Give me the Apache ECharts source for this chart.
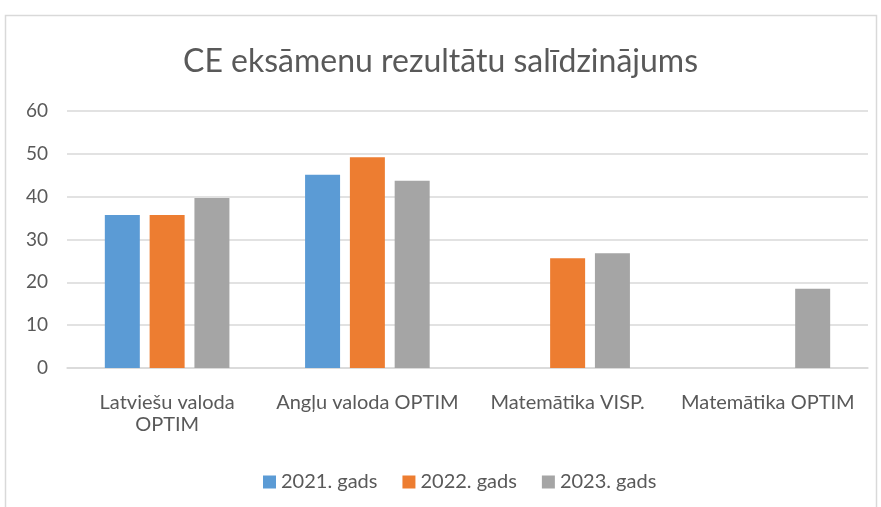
<!DOCTYPE html>
<html>
<head>
<meta charset="utf-8">
<script src="https://cdn.jsdelivr.net/npm/echarts@6/dist/echarts.min.js"></script>
<style>
  html, body { margin: 0; padding: 0; background: #fff; }
  #chart { width: 881px; height: 507px; }
</style>
</head>
<body>
<div id="chart"></div>
<script>
  // chart data
  const categories = ['Latviešu valoda\nOPTIM', 'Angļu valoda OPTIM', 'Matemātika VISP.', 'Matemātika OPTIM']
  const seriesNames = ['2021. gads', '2022. gads', '2023. gads']
  const values2021 = [35.7, 45.1, null, null]
  const values2022 = [35.7, 49.2, 25.6, null]
  const values2023 = [39.7, 43.7, 26.8, 18.5]
  const yTicks = [0, 10, 20, 30, 40, 50, 60]

  const colors = ['#5b9bd5', '#ed7d31', '#a5a5a5']
  const font = 'Lato, sans-serif'
  const textColor = '#595959'

  const chart = echarts.init(document.getElementById('chart'))
  const allValues = [values2021, values2022, values2023]

  chart.setOption({
    animation: false,
    color: colors,
    title: {
      text: 'CE eksāmenu rezultātu salīdzinājums',
      left: 'center',
      top: 41,
      textStyle: { fontFamily: font, fontSize: 32, fontWeight: 'normal', color: textColor }
    },
    graphic: [{
      type: 'rect',
      shape: { x: 5.5, y: 15.5, width: 871, height: 520 },
      style: { fill: 'none', stroke: '#d9d9d9', lineWidth: 1.5 },
      silent: true
    }],
    legend: {
      data: seriesNames,
      top: 467,
      left: 258,
      icon: 'rect',
      itemWidth: 13,
      itemHeight: 13,
      itemGap: 25,
      textStyle: { fontFamily: font, fontSize: 20, color: textColor }
    },
    grid: { left: 67, right: 13, top: 111, bottom: 139 },
    xAxis: {
      type: 'category',
      data: categories,
      axisLine: { lineStyle: { color: '#d9d9d9', width: 1.5 } },
      axisTick: { show: false },
      axisLabel: { fontFamily: font, fontSize: 20, color: textColor, margin: 24, lineHeight: 22, interval: 0 }
    },
    yAxis: {
      type: 'value',
      min: yTicks[0],
      max: yTicks[yTicks.length - 1],
      interval: 10,
      axisLine: { show: false },
      axisTick: { show: false },
      splitLine: { lineStyle: { color: '#d9d9d9', width: 1.5 } },
      axisLabel: { fontFamily: font, fontSize: 19, color: textColor, margin: 19 }
    },
    series: seriesNames.map((name, i) => ({
      name: name,
      type: 'bar',
      data: allValues[i],
      barWidth: 35,
      barGap: '28%'
    }))
  })
</script>
</body>
</html>
